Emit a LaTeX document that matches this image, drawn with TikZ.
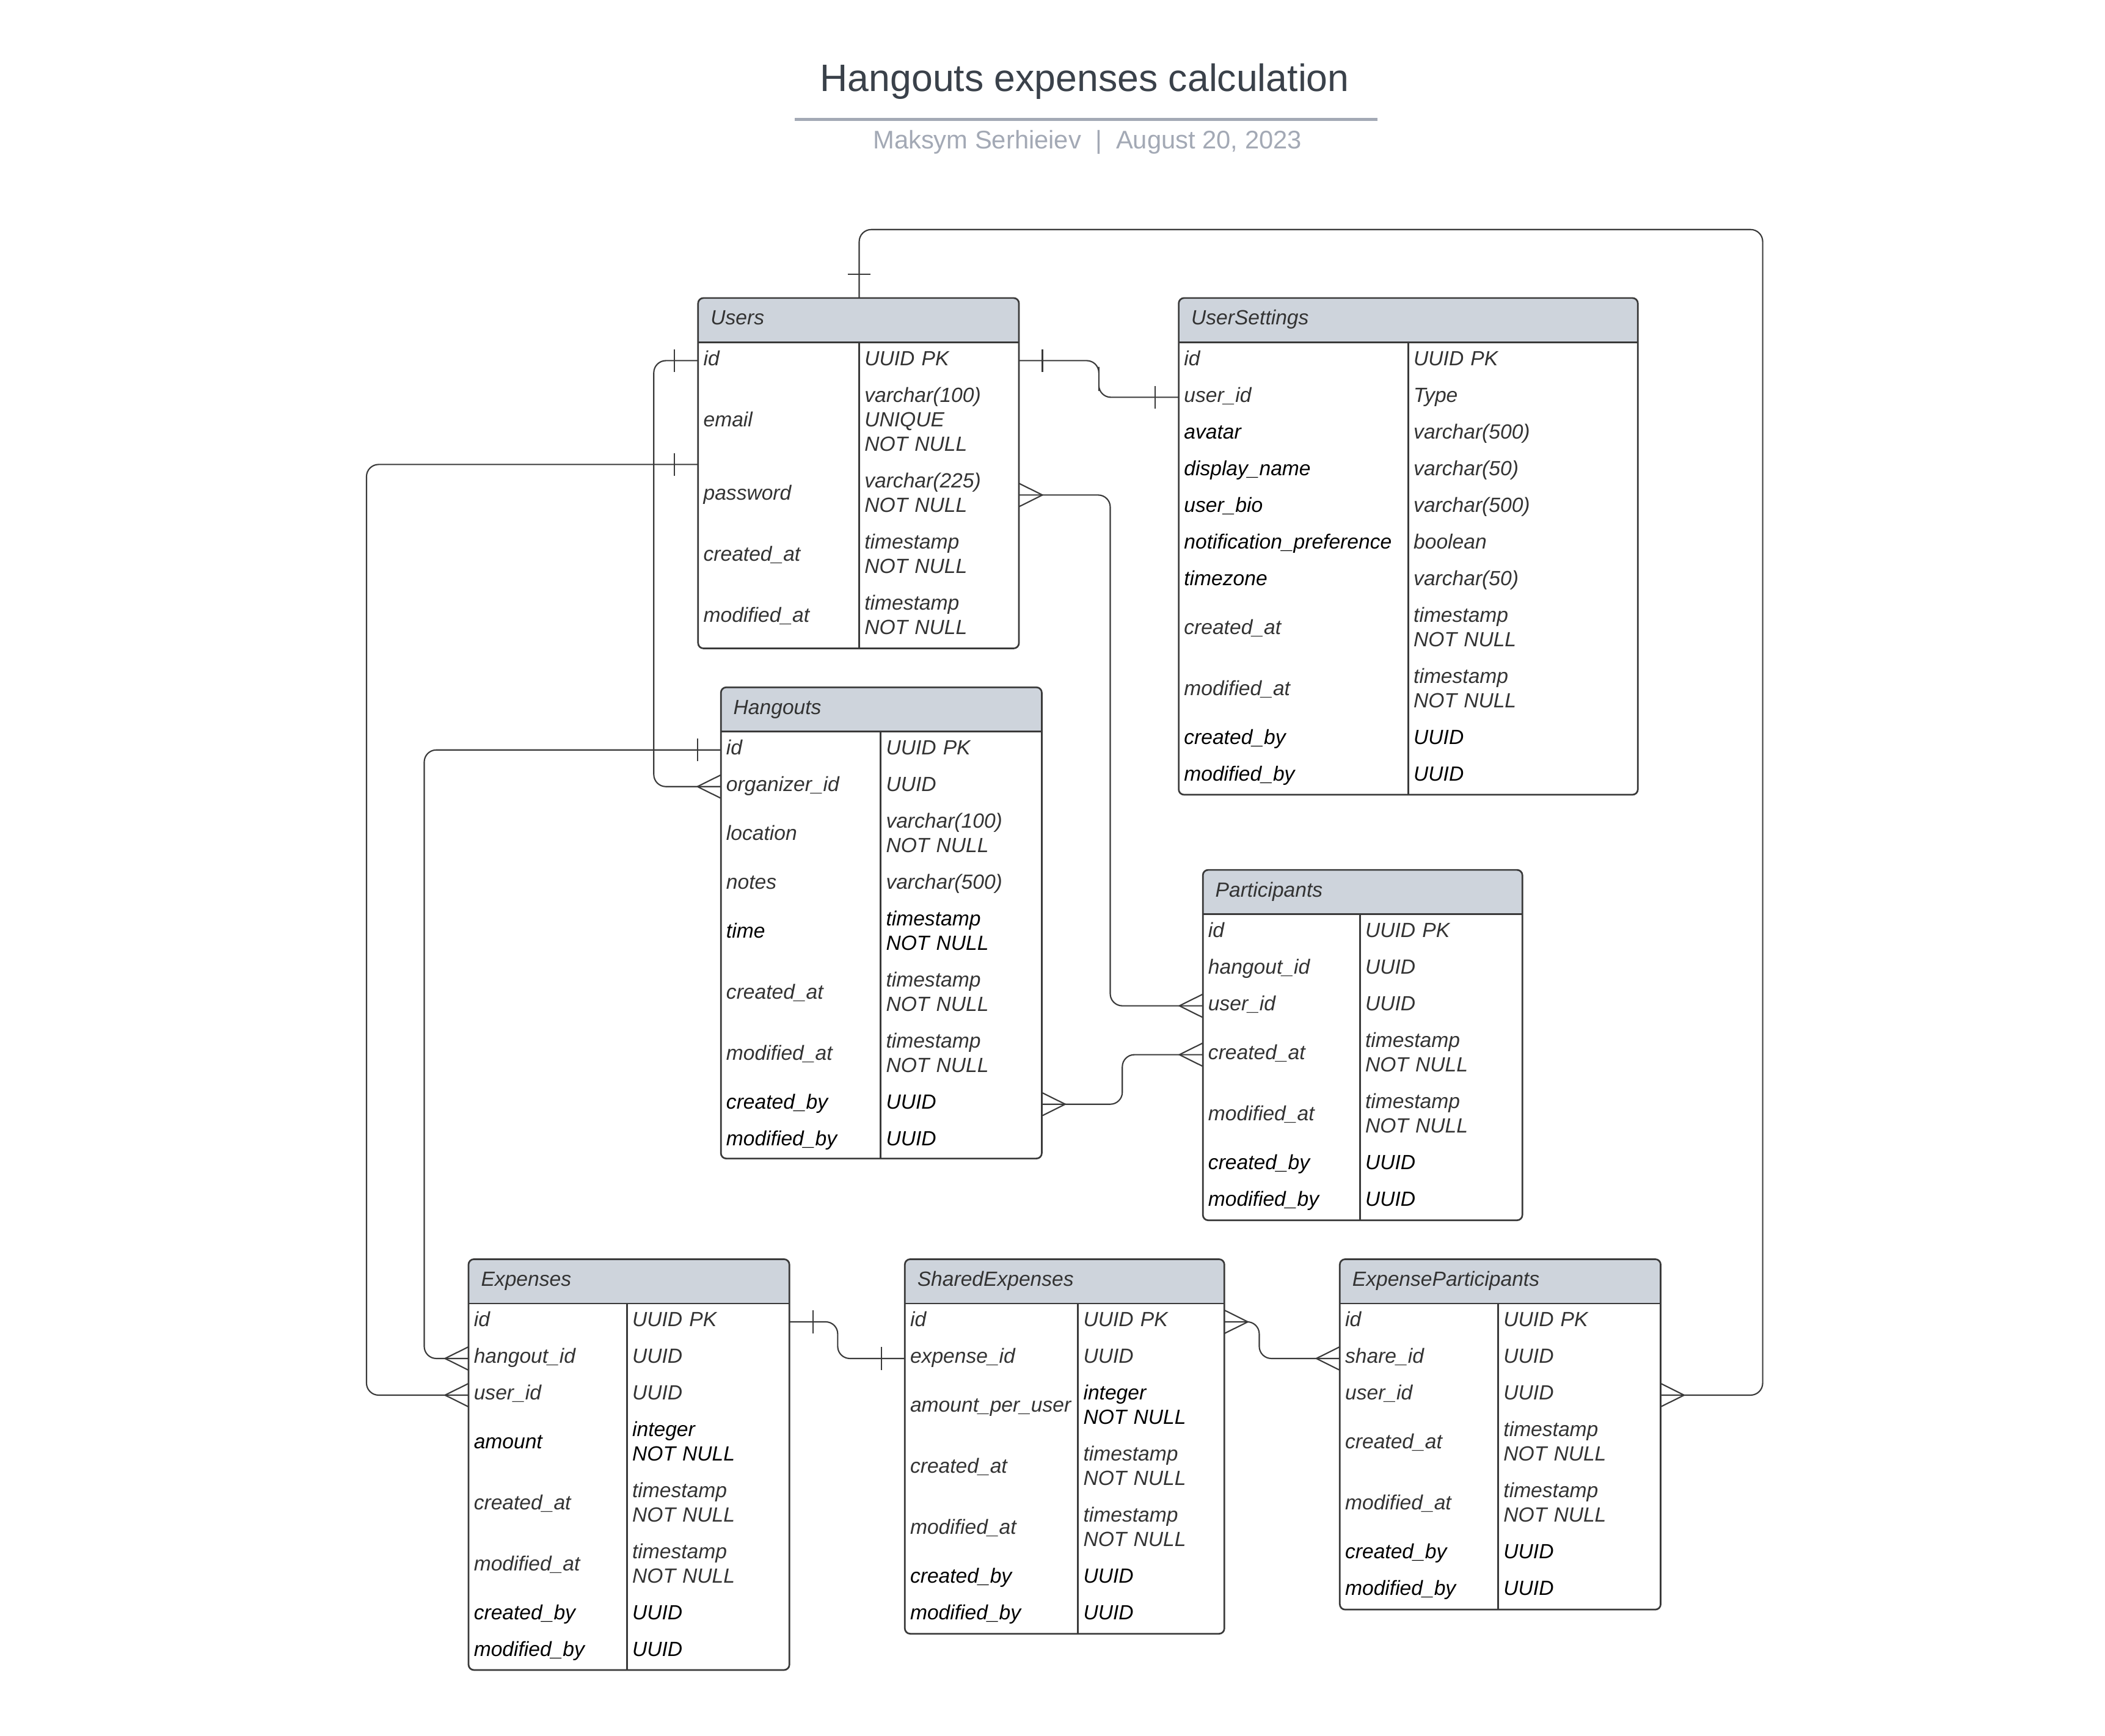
\documentclass[tikz,border=0pt]{standalone}
\usepackage{fontspec}
\setmainfont{Liberation Sans}
\usetikzlibrary{calc}
\definecolor{ln}{HTML}{3A3A3A}
\definecolor{fg}{HTML}{333333}
\definecolor{fb}{HTML}{000000}
\definecolor{hdrgray}{HTML}{CED4DC}
\definecolor{ttl}{HTML}{3A414A}
\definecolor{subgray}{HTML}{A3A9B5}

\newcommand{\ertable}[8]{%
  \begin{scope}
    \clip[rounded corners=0.08cm] (#3,#6) rectangle (#5,#7);
    \fill[hdrgray] (#3,#6) rectangle (#5,#6+33);
  \end{scope}
  \draw[tbl] (#3,#6) rectangle (#5,#7);
  \draw[tbl] (#3,#6+33) -- (#5,#6+33) (#4,#6+33) -- (#4,#7);
  \node[hdr] (#1h) at (#3+9,#6+20) {#2};
  \coordinate (#1n) at (#4,#6);
  \coordinate (#10) at (#3,#6+33);
  \pgfmathsetlengthmacro\ercolw{(#4-#3-8)*0.02cm}
  \pgfmathsetlengthmacro\ertypw{(#5-#4-8)*0.02cm}
  \foreach \fname/\ftype/\nlin/\cname/\ctype [count=\i, remember=\i as \j (initially 0)] in {#8}{
    \pgfmathsetlengthmacro\errowh{(18.2*\nlin+9.1)*0.02cm}
    \node[fld, text=\cname, minimum height=\errowh, text width=\ercolw, anchor=north west]
      (#1\i) at (#1\j.south west) {\strut\fname\strut};
    \node[fld, text=\ctype, minimum height=\errowh, text width=\ertypw, anchor=north west]
      (#1\i t) at (#1\i.north east) {\strut\ftype\strut};
  }
}

\begin{document}
\begin{tikzpicture}[x=0.02cm,y=-0.02cm,
  conn/.style={draw=ln,line width=0.55pt,rounded corners=0.18cm},
  tbl/.style={draw=ln,line width=0.7pt,rounded corners=0.08cm},
  hdr/.style={anchor=base west,inner sep=0pt,text=fg,font=\itshape\fontsize{8.7}{10.35}\selectfont},
  fld/.style={inner xsep=0.08cm,inner ysep=0pt,outer sep=0pt,align=left,font=\itshape\fontsize{8.7}{10.35}\selectfont},
  crow/.pic={\draw[draw=ln,line width=0.55pt] (0,-8.7) -- (17.5,0) -- (0,8.7);},
  bar/.pic={\draw[draw=ln,line width=0.55pt] (17.5,-8.5) -- (17.5,8.5);}]
\fill[white] (0,0) rectangle (1568,1293);
\useasboundingbox (0,0) rectangle (1568,1293);

\node[anchor=base,text=ttl,font=\fontsize{16.2}{19}\selectfont] (title) at (808,68) {Hangouts expenses calculation};
\draw[subgray,line width=1.1pt] (592,89) -- (1026,89);
\node[anchor=base,text=subgray,font=\fontsize{10.8}{13}\selectfont] (author) at (810,111) {Maksym Serhieiev\ \ |\ \ August 20, 2023};

\ertable{u}{Users}{520}{640}{759}{222}{483}{
  {id}/{UUID PK}/1/fg/fg,
  {email}/{varchar(100)\\UNIQUE\\NOT NULL}/3/fg/fg,
  {password}/{varchar(225)\\NOT NULL}/2/fg/fg,
  {created\_at}/{timestamp\\NOT NULL}/2/fg/fg,
  {modified\_at}/{timestamp\\NOT NULL}/2/fg/fg}

\ertable{s}{UserSettings}{878}{1049}{1220}{222}{592}{
  {id}/{UUID PK}/1/fg/fg,
  {user\_id}/{Type}/1/fg/fg,
  {avatar}/{varchar(500)}/1/fb/fg,
  {display\_name}/{varchar(50)}/1/fb/fg,
  {user\_bio}/{varchar(500)}/1/fb/fg,
  {notification\_preference}/{boolean}/1/fb/fg,
  {timezone}/{varchar(50)}/1/fb/fg,
  {created\_at}/{timestamp\\NOT NULL}/2/fg/fg,
  {modified\_at}/{timestamp\\NOT NULL}/2/fg/fg,
  {created\_by}/{UUID}/1/fb/fb,
  {modified\_by}/{UUID}/1/fb/fb}

\ertable{h}{Hangouts}{537}{656}{776}{512}{863}{
  {id}/{UUID PK}/1/fg/fg,
  {organizer\_id}/{UUID}/1/fg/fg,
  {location}/{varchar(100)\\NOT NULL}/2/fg/fg,
  {notes}/{varchar(500)}/1/fg/fg,
  {time}/{timestamp\\NOT NULL}/2/fb/fb,
  {created\_at}/{timestamp\\NOT NULL}/2/fg/fg,
  {modified\_at}/{timestamp\\NOT NULL}/2/fg/fg,
  {created\_by}/{UUID}/1/fb/fb,
  {modified\_by}/{UUID}/1/fb/fb}

\ertable{p}{Participants}{896}{1013}{1134}{648}{909}{
  {id}/{UUID PK}/1/fg/fg,
  {hangout\_id}/{UUID}/1/fg/fg,
  {user\_id}/{UUID}/1/fg/fg,
  {created\_at}/{timestamp\\NOT NULL}/2/fg/fg,
  {modified\_at}/{timestamp\\NOT NULL}/2/fg/fg,
  {created\_by}/{UUID}/1/fb/fb,
  {modified\_by}/{UUID}/1/fb/fb}

\ertable{e}{Expenses}{349}{467}{588}{938}{1244}{
  {id}/{UUID PK}/1/fg/fg,
  {hangout\_id}/{UUID}/1/fg/fg,
  {user\_id}/{UUID}/1/fg/fg,
  {amount}/{integer\\NOT NULL}/2/fb/fb,
  {created\_at}/{timestamp\\NOT NULL}/2/fg/fg,
  {modified\_at}/{timestamp\\NOT NULL}/2/fg/fg,
  {created\_by}/{UUID}/1/fb/fb,
  {modified\_by}/{UUID}/1/fb/fb}

\ertable{se}{SharedExpenses}{674}{803}{912}{938}{1217}{
  {id}/{UUID PK}/1/fg/fg,
  {expense\_id}/{UUID}/1/fg/fg,
  {amount\_per\_user}/{integer\\NOT NULL}/2/fg/fb,
  {created\_at}/{timestamp\\NOT NULL}/2/fg/fg,
  {modified\_at}/{timestamp\\NOT NULL}/2/fg/fg,
  {created\_by}/{UUID}/1/fb/fb,
  {modified\_by}/{UUID}/1/fb/fb}

\ertable{ep}{ExpenseParticipants}{998}{1116}{1237}{938}{1199}{
  {id}/{UUID PK}/1/fg/fg,
  {share\_id}/{UUID}/1/fg/fg,
  {user\_id}/{UUID}/1/fg/fg,
  {created\_at}/{timestamp\\NOT NULL}/2/fg/fg,
  {modified\_at}/{timestamp\\NOT NULL}/2/fg/fg,
  {created\_by}/{UUID}/1/fb/fb,
  {modified\_by}/{UUID}/1/fb/fb}

\draw[conn] (u1t.east) -| ($(u1t.east)!.5!(s2.west)$) |- (s2.west);
\pic at (u1t.east) {bar};
\pic[rotate=180] at (s2.west) {bar};

\draw[conn] (un) -- ++(0,-51) -| ($(ep3t.east)+(76,0)$) -- (ep3t.east);
\pic[rotate=90] at (un) {bar};
\pic at (ep3t.east) {crow};

\draw[conn] (u1.west) -- ++(-33,0) |- (h2.west);
\pic[rotate=180] at (u1.west) {bar};
\pic[rotate=180] at (h2.west) {crow};

\draw[conn] (u2.south west) -- ++(-247,0) |- (e3.west);
\pic[rotate=180] at (u2.south west) {bar};
\pic[rotate=180] at (e3.west) {crow};

\draw[conn] (u3t.east) -- ++(68,0) |- (p3.west);
\pic at (u3t.east) {crow};
\pic[rotate=180] at (p3.west) {crow};

\draw[conn] (h1.west) -- ++(-221,0) |- (e2.west);
\pic[rotate=180] at (h1.west) {bar};
\pic[rotate=180] at (e2.west) {crow};

\draw[conn] (h8t.east) -| ($(h8t.east)!.5!(p4.west)$) |- (p4.west);
\pic at (h8t.east) {crow};
\pic[rotate=180] at (p4.west) {crow};

\draw[conn] (e1t.east) -- ++(36,0) |- (se2.west);
\pic at (e1t.east) {bar};
\pic[rotate=180] at (se2.west) {bar};

\draw[conn] (se1t.east) -- ++(26,0) |- (ep2.west);
\pic at (se1t.east) {crow};
\pic[rotate=180] at (ep2.west) {crow};
\end{tikzpicture}
\end{document}
